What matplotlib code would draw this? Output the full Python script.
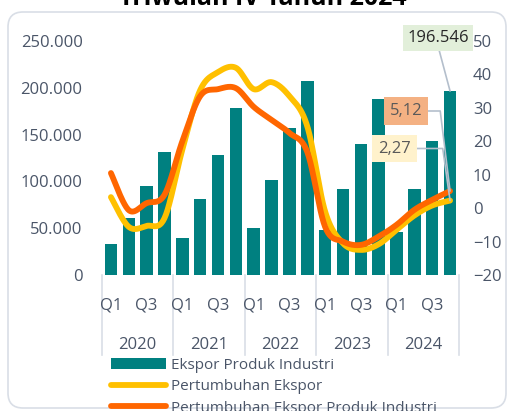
import numpy as np
import matplotlib
matplotlib.use('Agg')
import matplotlib.pyplot as plt
from matplotlib.patches import FancyBboxPatch, Patch
from matplotlib.lines import Line2D
from matplotlib import transforms

plt.rcParams['font.family'] = ['Open Sans', 'DejaVu Sans']

# data
years = ['2020', '2021', '2022', '2023', '2024']
quarters = ['Q1', 'Q2', 'Q3', 'Q4']
ekspor_industri = [33000, 61000, 95000, 131000,
                   39500, 81000, 128000, 178000,
                   50500, 102000, 157000, 207500,
                   48000, 92000, 140000, 188000,
                   46000, 92000, 143000, 196546]
pert_ekspor = [3.3, -5.6, -5.3, -3.0,
               17.5, 35.3, 40.7, 42.0,
               35.6, 37.7, 33.5, 24.5,
               -1.0, -10.5, -12.5, -10.8,
               -6.5, -2.2, 0.8, 2.27]
pert_industri = [10.5, -0.6, 1.5, 4.0,
                 20.0, 33.5, 35.6, 35.9,
                 30.3, 26.4, 22.5, 16.8,
                 -5.6, -10.0, -11.0, -8.5,
                 -5.0, -0.5, 2.5, 5.12]

TEAL = '#008080'
YELLOW = '#ffc000'
ORANGE = '#ff6600'
TXT = '#4a5568'
GRID = '#d9dee6'


def smooth(x, y, n=24):
    # bezier smoothing like a spreadsheet "smoothed line"
    p = np.column_stack([x, y]).astype(float)
    p = np.vstack([p[0], p, p[-1]])
    out = []
    t = np.linspace(0, 1, n)[:, None]
    for i in range(1, len(p) - 2):
        p0, p1, p2, p3 = p[i - 1], p[i], p[i + 1], p[i + 2]
        c1 = p1 + (p2 - p0) / 6
        c2 = p2 - (p3 - p1) / 6
        seg = ((1 - t) ** 3) * p1 + 3 * ((1 - t) ** 2) * t * c1 + 3 * (1 - t) * t ** 2 * c2 + t ** 3 * p2
        out.append(seg if i == 1 else seg[1:])
    out = np.vstack(out)
    return out[:, 0], out[:, 1]


fig = plt.figure(figsize=(5.08, 4.11), dpi=100)

# rounded outer frame
frame = FancyBboxPatch((0.08, 0.03), 4.98, 3.96, boxstyle='round,pad=0,rounding_size=0.15',
                       transform=fig.dpi_scale_trans, facecolor='white', edgecolor=GRID, lw=1.2,
                       zorder=-5)
fig.patches.append(frame)

fig.text(0.517, 0.988, 'Triwulan IV Tahun 2024', ha='center', va='baseline',
         fontsize=18, fontweight='bold', color='black')

ax = fig.add_axes([0.2008, 0.3309, 0.7027, 0.5693])
ax.set_facecolor('none')
x = np.arange(len(ekspor_industri))
ax.bar(x, ekspor_industri, width=0.7, color=TEAL, zorder=2)
ax.set_xlim(-0.5, len(x) - 0.5)
ax.set_ylim(0, 250000)
ax.set_yticks(np.arange(0, 250001, 50000))
ax.set_yticklabels([f'{v:,.0f}'.replace(',', '.') for v in np.arange(0, 250001, 50000)])
ax.set_xticks(x)
ax.set_xticklabels([q if q in ('Q1', 'Q3') else '' for y_ in years for q in quarters])
ax.tick_params(axis='y', length=0, pad=14, labelsize=12, labelcolor=TXT)
ax.tick_params(axis='x', length=0, pad=16, labelsize=12, labelcolor=TXT)
for s in ax.spines.values():
    s.set_visible(False)

# year separators and labels
tr = transforms.blended_transform_factory(ax.transData, ax.transAxes)
for k in range(len(years) + 1):
    ax.plot([k * 4 - 0.5, k * 4 - 0.5], [0, -0.34], transform=tr, color=GRID, lw=1.2,
            clip_on=False, zorder=1)
for k, yr in enumerate(years):
    ax.text(k * 4 + 1.5, -0.3, yr, transform=tr, ha='center', va='center',
            fontsize=12, color=TXT)

ax2 = ax.twinx()
ax2.set_ylim(-20, 50)
ax2.set_yticks(np.arange(-20, 51, 10))
ax2.tick_params(axis='y', length=0, pad=10, labelsize=12, labelcolor=TXT)
for s in ax2.spines.values():
    s.set_visible(False)

sx, sy = smooth(x, pert_ekspor)
ax2.plot(sx, sy, color=YELLOW, lw=4.2, solid_capstyle='round', zorder=3)
sx, sy = smooth(x, pert_industri)
ax2.plot(sx, sy, color=ORANGE, lw=4.2, solid_capstyle='round', zorder=4)

# data labels
lead = dict(arrowstyle='-', color='#b4bfcc', lw=1.2, shrinkA=0, shrinkB=0)
ax2.annotate(f'{ekspor_industri[-1]:,}'.replace(',', '.'), xy=(x[-1], ekspor_industri[-1]),
             xycoords=ax.transData,
             xytext=(438, 373), textcoords='figure pixels', ha='center', va='center',
             fontsize=12, color='#262626',
             bbox=dict(boxstyle='square,pad=0.28', fc='#e2efda', ec='none'),
             arrowprops=dict(lead, relpos=(0.5, 0)), zorder=6)
ax2.annotate(f'{pert_industri[-1]:.2f}'.replace('.', ','), xy=(x[-1], pert_industri[-1]),
             xytext=(406, 300), textcoords='figure pixels', ha='center', va='center',
             fontsize=12, color='#595959',
             bbox=dict(boxstyle='square,pad=0.34', fc='#f4b183', ec='none'),
             arrowprops=dict(lead, relpos=(1, 0.5), connectionstyle='angle,angleA=0,angleB=97,rad=0'),
             zorder=6)
ax2.annotate(f'{pert_ekspor[-1]:.2f}'.replace('.', ','), xy=(x[-1], pert_ekspor[-1]),
             xytext=(394.5, 262.5), textcoords='figure pixels', ha='center', va='center',
             fontsize=12, color='#595959',
             bbox=dict(boxstyle='square,pad=0.34', fc='#fff2cc', ec='none'),
             arrowprops=dict(lead, relpos=(1, 0.5), connectionstyle='angle,angleA=0,angleB=98,rad=0'),
             zorder=6)

handles = [Patch(facecolor=TEAL, edgecolor='none'),
           Line2D([], [], color=YELLOW, lw=4.2, solid_capstyle='round'),
           Line2D([], [], color=ORANGE, lw=4.2, solid_capstyle='round')]
labels = ['Ekspor Produk Industri', 'Pertumbuhan Ekspor', 'Pertumbuhan Ekspor Produk Industri']
leg = fig.legend(handles, labels, loc='upper left', bbox_to_anchor=(111 / 508, (411 - 358) / 411),
                 frameon=False, fontsize=11, handlelength=3.6, handletextpad=0.3,
                 labelspacing=0.42, borderpad=0, borderaxespad=0)
for t in leg.get_texts():
    t.set_color(TXT)

fig.savefig('out.png', dpi=100)
